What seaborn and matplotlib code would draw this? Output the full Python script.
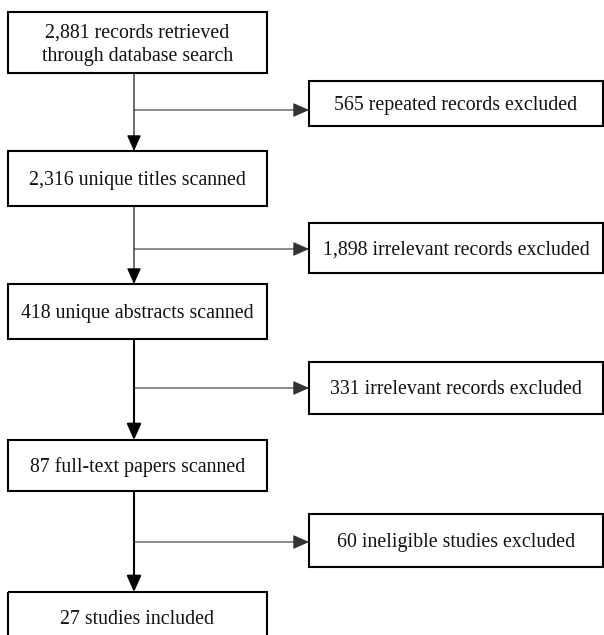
import matplotlib
matplotlib.use("Agg")
import matplotlib.pyplot as plt
import seaborn as sns
from matplotlib.patches import Rectangle

sns.set_theme(style="white")
plt.rcParams["font.family"] = ["Liberation Serif", "DejaVu Serif"]

# flow data
main_labels = [
    "2,881 records retrieved\nthrough database search",
    "2,316 unique titles scanned",
    "418 unique abstracts scanned",
    "87 full-text papers scanned",
    "27 studies included",
]
side_labels = [
    "565 repeated records excluded",
    "1,898 irrelevant records excluded",
    "331 irrelevant records excluded",
    "60 ineligible studies excluded",
]

# layout (pixels, y down)
main_x = (8, 267)
main_y = [(12, 73), (151, 206), (284, 339), (440, 491), (592, 645)]
side_x = (309, 603)
side_y = [(81, 126), (223, 273), (362, 414), (514, 567)]
branch_y = [110, 249, 388, 542]
stem_x = 134
stem_lw = [0.8, 0.8, 1.5, 1.5]

fig = plt.figure(figsize=(6.04, 6.35), dpi=100)
ax = fig.add_axes([0, 0, 1, 1])
ax.set_xlim(0, 604)
ax.set_ylim(635, 0)
ax.axis("off")


def box(x, y, text):
    ax.add_patch(Rectangle((x[0], y[0]), x[1] - x[0], y[1] - y[0],
                           fill=False, edgecolor="black", linewidth=1.5))
    cy = (y[0] + y[1]) / 2 + 2 if y[1] < 635 else y[0] + 27
    ax.text((x[0] + x[1]) / 2, cy, text, ha="center", va="center",
            fontsize=14.3, color="#111111", linespacing=1.35)


for yy, t in zip(main_y, main_labels):
    box(main_x, yy, t)
for yy, t in zip(side_y, side_labels):
    box(side_x, yy, t)

arrow = dict(arrowstyle="-|>,head_length=0.9,head_width=0.4",
             color="black", shrinkA=0, shrinkB=0)
for i in range(4):
    # vertical stem
    ax.annotate("", xy=(stem_x, main_y[i + 1][0]), xytext=(stem_x, main_y[i][1]),
                arrowprops=dict(arrow, linewidth=stem_lw[i], mutation_scale=11))
    # branch to side box
    ax.annotate("", xy=(side_x[0], branch_y[i]), xytext=(stem_x, branch_y[i]),
                arrowprops=dict(arrow, linewidth=0.8, color="#333333",
                                mutation_scale=11))

fig.savefig("out.png", dpi=100, facecolor="white")
